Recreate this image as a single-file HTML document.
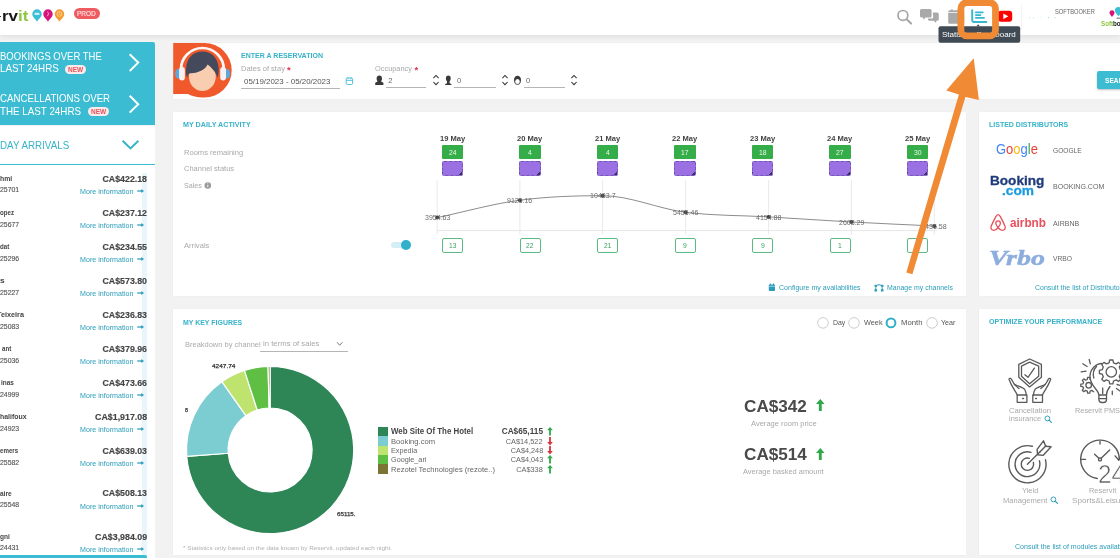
<!DOCTYPE html>
<html lang="en">
<head>
<meta charset="utf-8">
<title>Reservit Dashboard</title>
<style>
*{box-sizing:border-box;margin:0;padding:0}
html,body{width:1120px;height:558px;overflow:hidden}
body{background:#f2f2f2;font-family:"Liberation Sans",sans-serif;color:#555;position:relative}
.abs{position:absolute}
.t{position:absolute;white-space:nowrap;line-height:1;transform:scaleX(var(--s,1));transform-origin:0 0}
.card{position:absolute;background:#fff;box-shadow:0 0 1.500px rgba(0,0,0,.05)}
svg{position:absolute;overflow:visible}
</style>
</head>
<body>

<div class="abs" style="left:0;top:0;width:1120px;height:35px;background:#fff;box-shadow:0 2px 5px rgba(0,0,0,.075)"></div>
<div class="t" style="top:8px;font-size:15.20px;color:#161616;left:1.70px;font-weight:bold;--w:26.40px;--s:1.1167">rv<span style="color:#8cc63f">it</span></div>
<div class="abs" style="left:0;top:15.800px;width:.9px;height:1.600px;background:#333"></div>
<svg style="left:31px;top:9px" width="36" height="14" viewBox="0 0 36 14">
<path d="M6 .3a4.700 4.700 0 0 1 4.700 4.700c0 3.200-3.300 5-4.700 7.700C4.600 10 1.300 8.200 1.300 5A4.700 4.700 0 0 1 6 .3z" fill="#3bbfd6"/>
<path d="M17 .3a4.700 4.700 0 0 1 4.700 4.700c0 3.200-3.300 5-4.700 7.700-1.400-2.700-4.700-4.500-4.700-7.700A4.700 4.700 0 0 1 17 .3z" fill="#d6157a"/>
<path d="M28.500 .3a4.700 4.700 0 0 1 4.700 4.700c0 3.200-3.300 5-4.700 7.700-1.400-2.700-4.700-4.500-4.700-7.700A4.700 4.700 0 0 1 28.500 .3z" fill="#f39a2e"/>
<rect x="3.500" y="3.800" width="5" height="2.200" rx=".6" fill="#c9eef5"/>
<path d="M16.200 2.800l1.600 1.500-1.400 2.900" stroke="#f5b5d6" stroke-width=".9" fill="none"/>
<circle cx="28.500" cy="4.900" r="2.400" stroke="#fde2bf" stroke-width=".7" fill="none"/>
<path d="M28.500 3.400v1.700l1.100.8" stroke="#fde2bf" stroke-width=".6" fill="none"/>
</svg>
<div class="abs" style="left:73.500px;top:8px;width:26.500px;height:11px;background:#ee5b60;border-radius:6px"></div>
<div class="t" style="top:10px;font-size:7.30px;color:#fbdcdc;left:77.30px;-webkit-text-stroke-width:0.20px;--w:18.80px;--s:0.8913">PROD</div>
<svg style="left:890px;top:0" width="140" height="45" viewBox="890 0 140 45">
<circle cx="902.900" cy="15.400" r="4.900" stroke="#a6a6a6" stroke-width="1.700" fill="none"/>
<path d="M906.600 19.300l4.500 4.200" stroke="#a6a6a6" stroke-width="2" stroke-linecap="round"/>
<path d="M921.600 9h8.400a1.600 1.600 0 0 1 1.600 1.600v5.400a1.600 1.600 0 0 1-1.600 1.600h-4.200l-2.600 2.200v-2.200h-1.600a1.600 1.600 0 0 1-1.600-1.600v-5.400a1.600 1.600 0 0 1 1.600-1.600z" fill="#a9a9a9"/>
<path d="M932.800 12.600h4.400a1.600 1.600 0 0 1 1.600 1.600v5a1.600 1.600 0 0 1-1.600 1.600h-1v2.200l-2.600-2.200h-4a1.600 1.600 0 0 1-1.600-1.600v-.6h3.600a1.600 1.600 0 0 0 1.600-1.600z" fill="#a9a9a9"/>
<path d="M948.200 13h16v9.200a1.500 1.500 0 0 1-1.500 1.500h-13a1.500 1.500 0 0 1-1.500-1.500z" fill="#a9a9a9"/>
<path d="M948.200 12.200v-.4a1.500 1.500 0 0 1 1.500-1.500h13a1.500 1.500 0 0 1 1.500 1.500v.4z" fill="#a9a9a9"/>
<rect x="951" y="9.200" width="1.800" height="2.500" rx=".6" fill="#a9a9a9"/>
<rect x="998" y="10.800" width="14.200" height="11" rx="3" fill="#f00"/>
<path d="M1003.300 13.400l5 2.900-5 2.900z" fill="#fff"/>
<rect x="938.500" y="26.200" width="81.700" height="16.500" rx="2" fill="#3f4a54"/>
<path d="M976.500 26.200l1.700-2 1.700 2z" fill="#3f4a54"/>
<path d="M972.200 10.300v10a1.700 1.700 0 0 0 1.700 1.700h12.500" stroke="#35b8cf" stroke-width="1.900" fill="none" stroke-linecap="round"/>
<path d="M975.800 12.300h7M975.800 15.100h4.700M975.800 17.800h8.300" stroke="#35b8cf" stroke-width="1.700" fill="none" stroke-linecap="round"/>
</svg>
<div class="t" style="top:31px;font-size:8.00px;color:#fff;left:942.40px;--w:73.80px;--s:1.0058">Statistics Dashboard</div>
<div class="abs" style="left:1020.700px;top:4px;width:1px;height:26px;background:#f5f5f5"></div>
<div class="t" style="top:9px;font-size:6.50px;color:#666;left:1055.40px;--w:39.80px;--s:0.8814">SOFTBOOKER</div>
<svg style="left:1025px;top:15px" width="70" height="5" viewBox="0 0 70 5"><g fill="#9fdde8"><circle cx="4.500" cy="2.700" r=".5"/><circle cx="8.500" cy="2.700" r=".5"/><circle cx="16" cy="2.700" r=".4"/><circle cx="23.500" cy="2.700" r=".7"/><circle cx="30" cy="2.700" r=".6"/><circle cx="64.800" cy="2.700" r=".5"/></g></svg>
<svg style="left:1105px;top:6px" width="16" height="14" viewBox="0 0 16 14">
<path d="M7 4.200a2.500 2.500 0 0 1 2.500 2.500c0 1.700-1.700 2.700-2.500 4.300-.8-1.600-2.500-2.600-2.500-4.300A2.500 2.500 0 0 1 7 4.200z" fill="#d6157a"/>
<path d="M13.500 1a3.600 3.600 0 0 1 3.600 3.600c0 2.400-2.500 3.800-3.600 6-1.100-2.200-3.600-3.600-3.600-6A3.600 3.600 0 0 1 13.500 1z" fill="#3bbfd6"/>
<path d="M11.500 12.200h5" stroke="#444" stroke-width=".8"/>
</svg>
<div class="t" style="top:20px;font-size:8.00px;color:#222;left:1100.90px;font-weight:bold;--w:19.60px;--s:0.7734"><span style="color:#8cc63f">Soft</span>bo</div>
<div class="abs" style="left:0;top:42.300px;width:155px;height:83.200px;background:#3cbcd2;border-radius:0 2px 0 0"></div>
<div class="t" style="top:52px;font-size:10.20px;color:#fff;left:0.00px;--w:101.80px;--s:0.9333">BOOKINGS OVER THE</div>
<div class="t" style="top:64px;font-size:10.20px;color:#fff;left:0.00px;--w:58.80px;--s:0.9644">LAST 24HRS</div>
<div class="t" style="top:94px;font-size:10.20px;color:#fff;left:0.00px;--w:110.10px;--s:0.9502">CANCELLATIONS OVER</div>
<div class="t" style="top:107px;font-size:10.20px;color:#fff;left:0.00px;--w:81.00px;--s:0.9623">THE LAST 24HRS</div>
<div class="abs" style="left:64.5px;top:65.2px;width:21.200px;height:9px;background:#fdeaea;border-radius:4.500px"></div>
<div class="t" style="top:67px;font-size:6.90px;color:#e25560;left:67.70px;font-weight:bold;--w:15.20px;--s:0.9454">NEW</div>
<div class="abs" style="left:87.5px;top:107.2px;width:21.200px;height:9px;background:#fdeaea;border-radius:4.500px"></div>
<div class="t" style="top:109px;font-size:6.90px;color:#e25560;left:90.70px;font-weight:bold;--w:15.20px;--s:0.9454">NEW</div>
<svg style="left:126px;top:52px" width="16" height="22" viewBox="126 52 16 22"><path d="M129.700 54.200L138.200 62.600 129.700 71" stroke="#fff" stroke-width="2" fill="none"/></svg>
<svg style="left:126px;top:93px" width="16" height="22" viewBox="126 93 16 22"><path d="M129.700 95.800L138.200 104.200 129.700 112.600" stroke="#fff" stroke-width="2" fill="none"/></svg>
<div class="abs" style="left:0;top:125.500px;width:155px;height:433px;background:#fff"></div>
<div class="abs" style="left:0;top:164.200px;width:155px;height:1.200px;background:#3cbcd2"></div>
<div class="t" style="top:141px;font-size:10.20px;color:#37b3c9;left:0.00px;--w:69.20px;--s:0.9622">DAY ARRIVALS</div>
<svg style="left:120px;top:138px" width="22" height="14" viewBox="120 138 22 14"><path d="M122.600 140.800L130.500 148.400 138.400 140.800" stroke="#37b3c9" stroke-width="2" fill="none"/></svg>
<div class="abs" style="left:142px;top:173px;width:5px;height:383px;background:#e6f6fa"></div>
<div class="t" style="top:175px;font-size:7.60px;color:#444;left:0.00px;font-weight:bold;--w:12.20px;--s:0.9027">hmi</div>
<div class="t" style="top:186px;font-size:7.60px;color:#555;left:0.00px;-webkit-text-stroke-width:0.15px;--w:19.20px;--s:0.9089">25701</div>
<div class="t" style="top:175px;font-size:8.50px;color:#444;right:973.00px;transform-origin:100% 0;font-weight:bold;-webkit-text-stroke-width:0.15px;--w:44.50px;--s:1.0345">CA$422.18</div>
<div class="t" style="top:189px;font-size:7.10px;color:#2a9dba;left:79.60px;--w:53.40px;--s:1.0031">More information</div>
<svg style="left:137px;top:187.8px" width="8" height="6" viewBox="0 0 8 6"><path d="M.3 3h5" stroke="#2a9dba" stroke-width="1.300"/><path d="M4.300 1L7 3 4.300 5z" fill="#2a9dba"/></svg>
<div class="t" style="top:209px;font-size:7.60px;color:#444;left:0.00px;font-weight:bold;--w:14.00px;--s:0.8087">opez</div>
<div class="t" style="top:221px;font-size:7.60px;color:#555;left:0.00px;-webkit-text-stroke-width:0.15px;--w:19.20px;--s:0.9089">25677</div>
<div class="t" style="top:209px;font-size:8.50px;color:#444;right:973.00px;transform-origin:100% 0;font-weight:bold;-webkit-text-stroke-width:0.15px;--w:44.50px;--s:1.0345">CA$237.12</div>
<div class="t" style="top:223px;font-size:7.10px;color:#2a9dba;left:79.60px;--w:53.40px;--s:1.0031">More information</div>
<svg style="left:137px;top:221.9px" width="8" height="6" viewBox="0 0 8 6"><path d="M.3 3h5" stroke="#2a9dba" stroke-width="1.300"/><path d="M4.300 1L7 3 4.300 5z" fill="#2a9dba"/></svg>
<div class="t" style="top:243px;font-size:7.60px;color:#444;left:0.00px;font-weight:bold;--w:9.20px;--s:0.8077">dat</div>
<div class="t" style="top:255px;font-size:7.60px;color:#555;left:0.00px;-webkit-text-stroke-width:0.15px;--w:19.20px;--s:0.9089">25296</div>
<div class="t" style="top:243px;font-size:8.50px;color:#444;right:973.00px;transform-origin:100% 0;font-weight:bold;-webkit-text-stroke-width:0.15px;--w:44.50px;--s:1.0345">CA$234.55</div>
<div class="t" style="top:257px;font-size:7.10px;color:#2a9dba;left:79.60px;--w:53.40px;--s:1.0031">More information</div>
<svg style="left:137px;top:255.9px" width="8" height="6" viewBox="0 0 8 6"><path d="M.3 3h5" stroke="#2a9dba" stroke-width="1.300"/><path d="M4.300 1L7 3 4.300 5z" fill="#2a9dba"/></svg>
<div class="t" style="top:277px;font-size:7.60px;color:#444;left:0.00px;font-weight:bold;--w:4.70px;--s:1.1100">s</div>
<div class="t" style="top:289px;font-size:7.60px;color:#555;left:0.00px;-webkit-text-stroke-width:0.15px;--w:19.20px;--s:0.9089">25227</div>
<div class="t" style="top:277px;font-size:8.50px;color:#444;right:973.00px;transform-origin:100% 0;font-weight:bold;-webkit-text-stroke-width:0.15px;--w:44.50px;--s:1.0345">CA$573.80</div>
<div class="t" style="top:291px;font-size:7.10px;color:#2a9dba;left:79.60px;--w:53.40px;--s:1.0031">More information</div>
<svg style="left:137px;top:290.0px" width="8" height="6" viewBox="0 0 8 6"><path d="M.3 3h5" stroke="#2a9dba" stroke-width="1.300"/><path d="M4.300 1L7 3 4.300 5z" fill="#2a9dba"/></svg>
<div class="t" style="top:311px;font-size:7.60px;color:#444;left:-3.30px;font-weight:bold;--w:27.00px;--s:0.9589">Teixeira</div>
<div class="t" style="top:323px;font-size:7.60px;color:#555;left:0.00px;-webkit-text-stroke-width:0.15px;--w:19.20px;--s:0.9089">25083</div>
<div class="t" style="top:311px;font-size:8.50px;color:#444;right:973.00px;transform-origin:100% 0;font-weight:bold;-webkit-text-stroke-width:0.15px;--w:44.50px;--s:1.0345">CA$236.83</div>
<div class="t" style="top:325px;font-size:7.10px;color:#2a9dba;left:79.60px;--w:53.40px;--s:1.0031">More information</div>
<svg style="left:137px;top:324.0px" width="8" height="6" viewBox="0 0 8 6"><path d="M.3 3h5" stroke="#2a9dba" stroke-width="1.300"/><path d="M4.300 1L7 3 4.300 5z" fill="#2a9dba"/></svg>
<div class="t" style="top:345px;font-size:7.60px;color:#444;left:1.80px;font-weight:bold;--w:9.30px;--s:0.8165">ant</div>
<div class="t" style="top:357px;font-size:7.60px;color:#555;left:0.00px;-webkit-text-stroke-width:0.15px;--w:19.20px;--s:0.9089">25036</div>
<div class="t" style="top:345px;font-size:8.50px;color:#444;right:973.00px;transform-origin:100% 0;font-weight:bold;-webkit-text-stroke-width:0.15px;--w:44.50px;--s:1.0345">CA$379.96</div>
<div class="t" style="top:359px;font-size:7.10px;color:#2a9dba;left:79.60px;--w:53.40px;--s:1.0031">More information</div>
<svg style="left:137px;top:358.1px" width="8" height="6" viewBox="0 0 8 6"><path d="M.3 3h5" stroke="#2a9dba" stroke-width="1.300"/><path d="M4.300 1L7 3 4.300 5z" fill="#2a9dba"/></svg>
<div class="t" style="top:379px;font-size:7.60px;color:#444;left:1.40px;font-weight:bold;--w:12.90px;--s:0.8485">inas</div>
<div class="t" style="top:391px;font-size:7.60px;color:#555;left:0.00px;-webkit-text-stroke-width:0.15px;--w:19.20px;--s:0.9089">24999</div>
<div class="t" style="top:379px;font-size:8.50px;color:#444;right:973.00px;transform-origin:100% 0;font-weight:bold;-webkit-text-stroke-width:0.15px;--w:44.50px;--s:1.0345">CA$473.66</div>
<div class="t" style="top:393px;font-size:7.10px;color:#2a9dba;left:79.60px;--w:53.40px;--s:1.0031">More information</div>
<svg style="left:137px;top:392.2px" width="8" height="6" viewBox="0 0 8 6"><path d="M.3 3h5" stroke="#2a9dba" stroke-width="1.300"/><path d="M4.300 1L7 3 4.300 5z" fill="#2a9dba"/></svg>
<div class="t" style="top:413px;font-size:7.60px;color:#444;left:0.00px;font-weight:bold;--w:26.50px;--s:0.9099">halifoux</div>
<div class="t" style="top:425px;font-size:7.60px;color:#555;left:0.00px;-webkit-text-stroke-width:0.15px;--w:19.20px;--s:0.9089">24923</div>
<div class="t" style="top:413px;font-size:8.50px;color:#444;right:973.00px;transform-origin:100% 0;font-weight:bold;-webkit-text-stroke-width:0.15px;--w:52.00px;--s:1.0381">CA$1,917.08</div>
<div class="t" style="top:427px;font-size:7.10px;color:#2a9dba;left:79.60px;--w:53.40px;--s:1.0031">More information</div>
<svg style="left:137px;top:426.2px" width="8" height="6" viewBox="0 0 8 6"><path d="M.3 3h5" stroke="#2a9dba" stroke-width="1.300"/><path d="M4.300 1L7 3 4.300 5z" fill="#2a9dba"/></svg>
<div class="t" style="top:447px;font-size:7.60px;color:#444;left:0.00px;font-weight:bold;--w:18.20px;--s:0.8128">emers</div>
<div class="t" style="top:459px;font-size:7.60px;color:#555;left:0.00px;-webkit-text-stroke-width:0.15px;--w:19.20px;--s:0.9089">25582</div>
<div class="t" style="top:447px;font-size:8.50px;color:#444;right:973.00px;transform-origin:100% 0;font-weight:bold;-webkit-text-stroke-width:0.15px;--w:44.50px;--s:1.0345">CA$639.03</div>
<div class="t" style="top:461px;font-size:7.10px;color:#2a9dba;left:79.60px;--w:53.40px;--s:1.0031">More information</div>
<svg style="left:137px;top:460.3px" width="8" height="6" viewBox="0 0 8 6"><path d="M.3 3h5" stroke="#2a9dba" stroke-width="1.300"/><path d="M4.300 1L7 3 4.300 5z" fill="#2a9dba"/></svg>
<div class="t" style="top:490px;font-size:7.60px;color:#444;left:0.00px;font-weight:bold;--w:11.60px;--s:0.8583">aire</div>
<div class="t" style="top:501px;font-size:7.60px;color:#555;left:0.00px;-webkit-text-stroke-width:0.15px;--w:19.20px;--s:0.9089">25548</div>
<div class="t" style="top:489px;font-size:8.50px;color:#444;right:973.00px;transform-origin:100% 0;font-weight:bold;-webkit-text-stroke-width:0.15px;--w:44.50px;--s:1.0345">CA$508.13</div>
<div class="t" style="top:504px;font-size:7.10px;color:#2a9dba;left:79.60px;--w:53.40px;--s:1.0031">More information</div>
<svg style="left:137px;top:502.7px" width="8" height="6" viewBox="0 0 8 6"><path d="M.3 3h5" stroke="#2a9dba" stroke-width="1.300"/><path d="M4.300 1L7 3 4.300 5z" fill="#2a9dba"/></svg>
<div class="t" style="top:533px;font-size:7.60px;color:#444;left:0.00px;font-weight:bold;--w:9.80px;--s:0.8604">gni</div>
<div class="t" style="top:544px;font-size:7.60px;color:#555;left:0.00px;-webkit-text-stroke-width:0.15px;--w:19.20px;--s:0.9089">24431</div>
<div class="t" style="top:533px;font-size:8.50px;color:#444;right:973.00px;transform-origin:100% 0;font-weight:bold;-webkit-text-stroke-width:0.15px;--w:52.00px;--s:1.0381">CA$3,984.09</div>
<div class="t" style="top:547px;font-size:7.10px;color:#2a9dba;left:79.60px;--w:53.40px;--s:1.0031">More information</div>
<svg style="left:137px;top:545.7px" width="8" height="6" viewBox="0 0 8 6"><path d="M.3 3h5" stroke="#2a9dba" stroke-width="1.300"/><path d="M4.300 1L7 3 4.300 5z" fill="#2a9dba"/></svg>
<div class="abs" style="left:0;top:555.200px;width:147px;height:4px;background:#3cbcd2;border-radius:0 2px 0 0"></div>
<div class="card" style="left:173px;top:43px;width:947px;height:56.100px"></div>
<svg style="left:173px;top:42px" width="60" height="57" viewBox="173 42 60 57">
<path d="M173.200 42.900H204.400A27.300 27.300 0 0 1 204.400 97.500C197 97.500 192 96 188 93.900H173.200z" fill="#f0592b"/>
<path d="M181 69.400A21.400 21.400 0 0 1 223.800 69.400" stroke="#fbf7f6" stroke-width="2.700" fill="none"/>
<ellipse cx="178.600" cy="73.800" rx="3.600" ry="5" fill="#5ea5dc"/>
<ellipse cx="226.600" cy="73.800" rx="3.600" ry="5" fill="#5ea5dc"/>
<rect x="179.100" y="67.100" width="5.800" height="13.400" rx="2.900" fill="#f7f2f1"/>
<rect x="220.200" y="67.100" width="5.800" height="13.400" rx="2.900" fill="#f7f2f1"/>
<ellipse cx="202.400" cy="76.500" rx="13.400" ry="14.600" fill="#f9cdb0"/>
<path d="M187.200 77.500C184.500 72 185 51.400 202.400 51.400C219.800 51.400 220.300 72 217.500 77.500C216.500 74 214 69.500 207.600 64.500C206 69 198 73.500 190.500 73.200C188.500 73.200 187.800 75 187.200 77.500z" fill="#45495c"/>
</svg>
<div class="t" style="top:52px;font-size:7.30px;color:#37b3c9;left:241.10px;font-weight:bold;--w:82.00px;--s:0.9645">ENTER A RESERVATION</div>
<div class="t" style="top:65px;font-size:7.50px;color:#a9a9a9;left:241.10px;--w:43.90px;--s:1.0027">Dates of stay</div>
<div class="t" style="top:65px;font-size:9.50px;color:#e0324b;left:287.00px;font-weight:bold;">*</div>
<div class="t" style="top:78px;font-size:7.80px;color:#555;left:243.60px;--w:86.40px;--s:1.0167">05/19/2023 - 05/20/2023</div>
<div class="abs" style="left:241.100px;top:88.100px;width:99.200px;height:1px;background:#b5b5b5"></div>
<svg style="left:345px;top:76px" width="9" height="10" viewBox="345 76 9 10"><rect x="346.200" y="78" width="6.400" height="6.500" rx="1.300" stroke="#3cbcd2" stroke-width=".9" fill="none"/><path d="M346.200 80.300h6.400M347.800 77v1.500M351 77v1.500" stroke="#3cbcd2" stroke-width=".9"/></svg>
<div class="t" style="top:65px;font-size:7.50px;color:#a9a9a9;left:375.20px;--w:37.00px;--s:0.9858">Occupancy</div>
<div class="t" style="top:65px;font-size:9.50px;color:#e0324b;left:414.40px;font-weight:bold;">*</div>
<svg style="left:374px;top:74px" width="150" height="13" viewBox="374 74 150 13">
<path d="M379.300 75.600c1.700 0 2.700 1.200 2.700 2.800 0 1.300-.5 2.300-1.200 2.900l2.600 1.500v2.300h-8.200v-2.300l2.600-1.500c-.7-.6-1.200-1.600-1.200-2.900 0-1.600 1-2.800 2.700-2.800z" fill="#3a3a3a"/>
<path d="M448.300 75.600c1.500 0 2.400 1.100 2.400 2.700 0 1.500-.5 2.500-1.100 3.100v1.900l1.800.6v1.100h-6.200v-1.100l1.800-.6v-1.900c-.6-.6-1.100-1.600-1.100-3.100 0-1.600.9-2.700 2.400-2.700z" fill="#3a3a3a"/>
<path d="M517.500 75.800c2.100 0 3.500 1.700 3.500 4.200 0 2.700-1.400 4.800-3.500 4.800s-3.500-2.100-3.500-4.800c0-2.500 1.400-4.200 3.500-4.200z" fill="#3a3a3a"/>
<ellipse cx="517.500" cy="81.500" rx="2.300" ry="2.500" fill="#fff"/>
</svg>
<div class="t" style="top:77px;font-size:7.60px;color:#666;left:388.20px;">2</div>
<div class="abs" style="left:385.6px;top:86.600px;width:40.7px;height:1px;background:#b5b5b5"></div>
<svg style="left:431.5px;top:74px" width="8" height="12" viewBox="0 0 8 12"><path d="M1.400 4.200L4 1.500 6.600 4.200M1.400 8L4 10.700 6.600 8" stroke="#333" stroke-width="1.050" fill="none"/></svg>
<div class="t" style="top:77px;font-size:7.60px;color:#666;left:457.00px;">0</div>
<div class="abs" style="left:454.4px;top:86.600px;width:41.2px;height:1px;background:#b5b5b5"></div>
<svg style="left:500.5px;top:74px" width="8" height="12" viewBox="0 0 8 12"><path d="M1.400 4.200L4 1.500 6.600 4.200M1.400 8L4 10.700 6.600 8" stroke="#333" stroke-width="1.050" fill="none"/></svg>
<div class="t" style="top:77px;font-size:7.60px;color:#666;left:526.10px;">0</div>
<div class="abs" style="left:523.7px;top:86.600px;width:41.3px;height:1px;background:#b5b5b5"></div>
<svg style="left:569.6px;top:74px" width="8" height="12" viewBox="0 0 8 12"><path d="M1.400 4.200L4 1.500 6.600 4.200M1.400 8L4 10.700 6.600 8" stroke="#333" stroke-width="1.050" fill="none"/></svg>
<div class="abs" style="left:1097px;top:71px;width:30px;height:17.500px;background:#3cbcd2;border-radius:2px;box-shadow:0 1px 2px rgba(0,0,0,.25)"></div>
<div class="t" style="top:77px;font-size:7.20px;color:#fff;left:1105.00px;font-weight:bold;--w:28.00px;--s:0.9223">SEARCH</div>
<div class="card" style="left:173px;top:111.800px;width:793px;height:184px"></div>
<div class="t" style="top:121px;font-size:7.30px;color:#37b3c9;left:182.70px;font-weight:bold;--w:67.70px;--s:0.9820">MY DAILY ACTIVITY</div>
<div class="t" style="top:149px;font-size:7.30px;color:#a9a9a9;left:183.80px;--w:59.20px;--s:1.0352">Rooms remaining</div>
<div class="t" style="top:165px;font-size:7.30px;color:#a9a9a9;left:183.80px;--w:50.10px;--s:1.0290">Channel status</div>
<div class="t" style="top:182px;font-size:7.30px;color:#a9a9a9;left:183.80px;--w:17.90px;--s:0.9800">Sales</div>
<svg style="left:204px;top:182px" width="8" height="8" viewBox="204 182 8 8"><circle cx="207.800" cy="185.500" r="3.300" fill="#9a9a9a"/><path d="M207.800 185v2.200" stroke="#fff" stroke-width=".9"/><circle cx="207.800" cy="183.800" r=".55" fill="#fff"/></svg>
<div class="t" style="top:242px;font-size:7.30px;color:#a9a9a9;left:183.80px;--w:25.40px;--s:1.0441">Arrivals</div>
<div class="abs" style="left:390.500px;top:242px;width:18px;height:6.400px;border-radius:3.200px;background:#d3eff5"></div>
<div class="abs" style="left:401.400px;top:240.300px;width:9.800px;height:9.800px;border-radius:50%;background:#32b0cb"></div>
<svg style="left:0;top:0" width="1120" height="300" viewBox="0 0 1120 300"><path d="M437.2 180V234.500" stroke="#e9e9e9" stroke-width="1"/><path d="M519.9 180V234.500" stroke="#e9e9e9" stroke-width="1"/><path d="M602.6 180V234.500" stroke="#e9e9e9" stroke-width="1"/><path d="M685.6 180V234.500" stroke="#e9e9e9" stroke-width="1"/><path d="M768.6 180V234.500" stroke="#e9e9e9" stroke-width="1"/><path d="M851.4 180V234.500" stroke="#e9e9e9" stroke-width="1"/><path d="M934.3 180V234.500" stroke="#e9e9e9" stroke-width="1"/><path d="M437.200 230.600H937" stroke="#e6e6e6" stroke-width="1"/><path d="M437.2 217.6 C464.8 211.80 492.3 203.85 519.9 200.2 C547.5 196.55 575.0 195.70 602.6 195.7 C630.3 195.70 657.9 208.77 685.6 212.3 C713.3 215.83 740.9 215.28 768.6 216.9 C796.2 218.51 823.8 220.48 851.4 222.0 C879.0 223.52 906.7 224.67 934.3 226.0" stroke="#6e6e6e" stroke-width=".8" fill="none"/><circle cx="437.2" cy="217.6" r="2" fill="#3c3c3c"/><circle cx="519.9" cy="200.2" r="2" fill="#3c3c3c"/><circle cx="602.6" cy="195.7" r="2" fill="#3c3c3c"/><circle cx="685.6" cy="212.3" r="2" fill="#3c3c3c"/><circle cx="768.6" cy="216.9" r="2" fill="#3c3c3c"/><circle cx="851.4" cy="222.0" r="2" fill="#3c3c3c"/><circle cx="934.3" cy="226.0" r="2" fill="#3c3c3c"/></svg>
<div class="t" style="top:214px;font-size:7.40px;color:#6a6a6a;left:424.50px;--w:25.40px;--s:0.9506">3954.63</div>
<div class="t" style="top:197px;font-size:7.40px;color:#6a6a6a;left:507.30px;--w:25.20px;--s:0.9432">9126.16</div>
<div class="t" style="top:192px;font-size:7.40px;color:#6a6a6a;left:589.75px;--w:25.70px;--s:0.9619">10483.7</div>
<div class="t" style="top:209px;font-size:7.40px;color:#6a6a6a;left:672.90px;--w:25.40px;--s:0.9506">5456.46</div>
<div class="t" style="top:214px;font-size:7.40px;color:#6a6a6a;left:755.90px;--w:25.40px;--s:0.9506">4154.88</div>
<div class="t" style="top:219px;font-size:7.40px;color:#6a6a6a;left:838.70px;--w:25.40px;--s:0.9506">2608.29</div>
<div class="t" style="top:223px;font-size:7.40px;color:#6a6a6a;left:925.20px;--w:21.80px;--s:0.9642">436.58</div>
<div class="t" style="top:135px;font-size:7.30px;color:#444;left:439.90px;font-weight:bold;--w:25.20px;--s:1.0352">19 May</div>
<div class="abs" style="left:441.9px;top:145.400px;width:21.200px;height:13.700px;background:#35ad49;border-radius:1px"></div>
<div class="t" style="top:149px;font-size:7.00px;color:#e9f7ea;left:448.70px;--w:7.60px;--s:0.9747">24</div>
<div class="abs" style="left:441.9px;top:161.300px;width:21.200px;height:14.800px;background:linear-gradient(135deg,#9b70e2 0,#9b70e2 90%,#3d3358 90%);border:.6px dashed #7258b8;border-radius:2px"></div>
<div class="abs" style="left:442.0px;top:238.300px;width:21px;height:15.200px;background:#fff;border:1px solid #5cba84;border-radius:2px"></div>
<div class="t" style="top:242px;font-size:7.00px;color:#3aa163;left:448.80px;--w:7.40px;--s:0.9491">13</div>
<div class="t" style="top:135px;font-size:7.30px;color:#444;left:517.40px;font-weight:bold;--w:25.20px;--s:1.0352">20 May</div>
<div class="abs" style="left:519.4px;top:145.400px;width:21.200px;height:13.700px;background:#35ad49;border-radius:1px"></div>
<div class="t" style="top:149px;font-size:7.00px;color:#e9f7ea;left:528.10px;--w:3.80px;--s:0.9728">4</div>
<div class="abs" style="left:519.4px;top:161.300px;width:21.200px;height:14.800px;background:linear-gradient(135deg,#9b70e2 0,#9b70e2 90%,#3d3358 90%);border:.6px dashed #7258b8;border-radius:2px"></div>
<div class="abs" style="left:519.5px;top:238.300px;width:21px;height:15.200px;background:#fff;border:1px solid #5cba84;border-radius:2px"></div>
<div class="t" style="top:242px;font-size:7.00px;color:#3aa163;left:526.30px;--w:7.40px;--s:0.9491">22</div>
<div class="t" style="top:135px;font-size:7.30px;color:#444;left:594.90px;font-weight:bold;--w:25.20px;--s:1.0352">21 May</div>
<div class="abs" style="left:596.9px;top:145.400px;width:21.200px;height:13.700px;background:#35ad49;border-radius:1px"></div>
<div class="t" style="top:149px;font-size:7.00px;color:#e9f7ea;left:605.60px;--w:3.80px;--s:0.9728">4</div>
<div class="abs" style="left:596.9px;top:161.300px;width:21.200px;height:14.800px;background:linear-gradient(135deg,#9b70e2 0,#9b70e2 90%,#3d3358 90%);border:.6px dashed #7258b8;border-radius:2px"></div>
<div class="abs" style="left:597.0px;top:238.300px;width:21px;height:15.200px;background:#fff;border:1px solid #5cba84;border-radius:2px"></div>
<div class="t" style="top:242px;font-size:7.00px;color:#3aa163;left:603.80px;--w:7.40px;--s:0.9491">21</div>
<div class="t" style="top:135px;font-size:7.30px;color:#444;left:672.40px;font-weight:bold;--w:25.20px;--s:1.0352">22 May</div>
<div class="abs" style="left:674.4px;top:145.400px;width:21.200px;height:13.700px;background:#35ad49;border-radius:1px"></div>
<div class="t" style="top:149px;font-size:7.00px;color:#e9f7ea;left:681.20px;--w:7.60px;--s:0.9747">17</div>
<div class="abs" style="left:674.4px;top:161.300px;width:21.200px;height:14.800px;background:linear-gradient(135deg,#9b70e2 0,#9b70e2 90%,#3d3358 90%);border:.6px dashed #7258b8;border-radius:2px"></div>
<div class="abs" style="left:674.5px;top:238.300px;width:21px;height:15.200px;background:#fff;border:1px solid #5cba84;border-radius:2px"></div>
<div class="t" style="top:242px;font-size:7.00px;color:#3aa163;left:683.10px;--w:3.80px;--s:0.9728">9</div>
<div class="t" style="top:135px;font-size:7.30px;color:#444;left:749.90px;font-weight:bold;--w:25.20px;--s:1.0352">23 May</div>
<div class="abs" style="left:751.9px;top:145.400px;width:21.200px;height:13.700px;background:#35ad49;border-radius:1px"></div>
<div class="t" style="top:149px;font-size:7.00px;color:#e9f7ea;left:758.70px;--w:7.60px;--s:0.9747">18</div>
<div class="abs" style="left:751.9px;top:161.300px;width:21.200px;height:14.800px;background:linear-gradient(135deg,#9b70e2 0,#9b70e2 90%,#3d3358 90%);border:.6px dashed #7258b8;border-radius:2px"></div>
<div class="abs" style="left:752.0px;top:238.300px;width:21px;height:15.200px;background:#fff;border:1px solid #5cba84;border-radius:2px"></div>
<div class="t" style="top:242px;font-size:7.00px;color:#3aa163;left:760.60px;--w:3.80px;--s:0.9728">9</div>
<div class="t" style="top:135px;font-size:7.30px;color:#444;left:827.40px;font-weight:bold;--w:25.20px;--s:1.0352">24 May</div>
<div class="abs" style="left:829.4px;top:145.400px;width:21.200px;height:13.700px;background:#35ad49;border-radius:1px"></div>
<div class="t" style="top:149px;font-size:7.00px;color:#e9f7ea;left:836.20px;--w:7.60px;--s:0.9747">27</div>
<div class="abs" style="left:829.4px;top:161.300px;width:21.200px;height:14.800px;background:linear-gradient(135deg,#9b70e2 0,#9b70e2 90%,#3d3358 90%);border:.6px dashed #7258b8;border-radius:2px"></div>
<div class="abs" style="left:829.5px;top:238.300px;width:21px;height:15.200px;background:#fff;border:1px solid #5cba84;border-radius:2px"></div>
<div class="t" style="top:242px;font-size:7.00px;color:#3aa163;left:838.10px;--w:3.80px;--s:0.9728">1</div>
<div class="t" style="top:135px;font-size:7.30px;color:#444;left:904.90px;font-weight:bold;--w:25.20px;--s:1.0352">25 May</div>
<div class="abs" style="left:906.9px;top:145.400px;width:21.200px;height:13.700px;background:#35ad49;border-radius:1px"></div>
<div class="t" style="top:149px;font-size:7.00px;color:#e9f7ea;left:913.70px;--w:7.60px;--s:0.9747">30</div>
<div class="abs" style="left:906.9px;top:161.300px;width:21.200px;height:14.800px;background:linear-gradient(135deg,#9b70e2 0,#9b70e2 90%,#3d3358 90%);border:.6px dashed #7258b8;border-radius:2px"></div>
<div class="abs" style="left:907.0px;top:238.300px;width:21px;height:15.200px;background:#fff;border:1px solid #5cba84;border-radius:2px"></div>
<svg style="left:768px;top:283px" width="8" height="9" viewBox="0 0 8 9"><rect x=".8" y="1.400" width="6.200" height="6.600" rx=".8" fill="#2a9dba"/><path d="M2.300 .4v2M5.500 .4v2" stroke="#2a9dba" stroke-width="1"/><path d="M.8 3.300h6.200" stroke="#fff" stroke-width=".5"/></svg>
<div class="t" style="top:284px;font-size:7.20px;color:#2a9dba;left:778.80px;--w:81.60px;--s:0.9772">Configure my availabilities</div>
<svg style="left:874px;top:283.500px" width="10" height="8" viewBox="0 0 10 8"><path d="M1.800 6.500V3.500a3.200 2.800 0 0 1 6.400 0v3" stroke="#2a9dba" stroke-width="1" fill="none"/><rect x=".5" y="5.200" width="2.600" height="2.300" fill="#2a9dba"/><rect x="6.900" y="5.200" width="2.600" height="2.300" fill="#2a9dba"/><rect x=".5" y=".8" width="2.400" height="2" fill="#2a9dba"/><rect x="7.100" y=".8" width="2.400" height="2" fill="#2a9dba"/></svg>
<div class="t" style="top:284px;font-size:7.20px;color:#2a9dba;left:887.30px;--w:66.00px;--s:0.9659">Manage my channels</div>
<div class="card" style="left:979px;top:111.800px;width:141px;height:184px"></div>
<div class="t" style="top:121px;font-size:7.30px;color:#37b3c9;left:988.70px;font-weight:bold;--w:79.30px;--s:0.9603">LISTED DISTRIBUTORS</div>
<div class="t" style="top:142px;font-size:14.00px;color:#4285f4;left:996.30px;--w:42.00px;--s:0.9291"><span style="color:#4285f4">G</span><span style="color:#ea4335">o</span><span style="color:#fbbc05">o</span><span style="color:#4285f4">g</span><span style="color:#34a853">l</span><span style="color:#ea4335">e</span></div>
<div class="t" style="top:147px;font-size:7.40px;color:#666;left:1053.10px;--w:28.60px;--s:0.8924">GOOGLE</div>
<div class="t" style="top:174px;font-size:13.60px;color:#1f3b7c;left:990.30px;font-weight:bold;-webkit-text-stroke-width:0.30px;--w:54.30px;--s:0.9986">Booking</div>
<div class="t" style="top:184px;font-size:13.60px;color:#1a9be0;left:1001.60px;font-weight:bold;-webkit-text-stroke-width:0.30px;--w:32.00px;--s:1.0084">.com</div>
<div class="t" style="top:183px;font-size:7.40px;color:#666;left:1053.10px;--w:51.30px;--s:0.9536">BOOKING.COM</div>
<svg style="left:989px;top:213px" width="19" height="19" viewBox="0 0 19 19">
<path d="M9.100 1.600c1.100 0 1.700.9 2.400 2.300 1.700 3.300 3.600 7 4.500 9.300.9 2.300-.6 4.100-2.600 4.100-1.700 0-3-1.100-4.300-2.600-1.300 1.500-2.600 2.600-4.300 2.600-2 0-3.500-1.800-2.600-4.100.9-2.300 2.800-6 4.500-9.300.7-1.400 1.300-2.300 2.400-2.300z" stroke="#e8505b" stroke-width="1.300" fill="none"/>
<path d="M9.100 14.700c-1.500-1.900-2.300-3.300-2.300-4.500 0-1.400 1-2.300 2.300-2.300s2.300.9 2.300 2.300c0 1.200-.8 2.600-2.300 4.500z" stroke="#e8505b" stroke-width="1.300" fill="none"/>
</svg>
<div class="t" style="top:217px;font-size:12.20px;color:#e8505b;left:1009.50px;font-weight:bold;--w:36.00px;--s:0.9664">airbnb</div>
<div class="t" style="top:220px;font-size:7.40px;color:#666;left:1053.10px;--w:26.30px;--s:0.9553">AIRBNB</div>
<div class="t" style="top:247px;font-size:22.00px;color:#8dadde;left:989.00px;font-weight:bold;font-family:'Liberation Serif',serif;-webkit-text-stroke-width:0.50px;font-style:italic;--w:56.00px;--s:1.2718">Vrbo</div>
<div class="t" style="top:255px;font-size:7.40px;color:#666;left:1053.10px;--w:19.00px;--s:0.9068">VRBO</div>
<div class="t" style="top:284px;font-size:7.20px;color:#2a9dba;left:1035.00px;--w:90.50px;--s:0.9681">Consult the list of Distributors</div>
<div class="card" style="left:173px;top:309.200px;width:793px;height:245.700px"></div>
<div class="t" style="top:319px;font-size:7.30px;color:#37b3c9;left:182.60px;font-weight:bold;--w:59.20px;--s:0.9520">MY KEY FIGURES</div>
<div class="t" style="top:341px;font-size:7.40px;color:#a9a9a9;left:184.60px;--w:75.70px;--s:1.0123">Breakdown by channel</div>
<div class="t" style="top:340px;font-size:7.40px;color:#a9a9a9;left:262.60px;--w:56.40px;--s:1.0481">in terms of sales</div>
<svg style="left:336px;top:341px" width="8" height="6" viewBox="336 341 8 6"><path d="M337 342.300l2.700 2.900 2.700-2.900" stroke="#666" stroke-width=".9" fill="none"/></svg>
<div class="abs" style="left:260.300px;top:350.700px;width:88px;height:1px;background:#b5b5b5"></div>
<svg style="left:180px;top:360px" width="180" height="180" viewBox="180 360 180 180"><path d="M270.10 366.40A83.6 83.6 0 1 1 186.75 456.45L228.23 453.24A42.0 42.0 0 1 0 270.10 408.00z" fill="#2e8657" stroke="#fff" stroke-width="1.200"/><path d="M186.75 456.45A83.6 83.6 0 0 1 221.92 381.68L245.89 415.68A42.0 42.0 0 0 0 228.23 453.24z" fill="#7bcdd2" stroke="#fff" stroke-width="1.200"/><path d="M221.92 381.68A83.6 83.6 0 0 1 244.45 370.43L257.21 410.03A42.0 42.0 0 0 0 245.89 415.68z" fill="#bfe36f" stroke="#fff" stroke-width="1.200"/><path d="M244.45 370.43A83.6 83.6 0 0 1 268.09 366.42L269.09 408.01A42.0 42.0 0 0 0 257.21 410.03z" fill="#5fbf45" stroke="#fff" stroke-width="1.200"/><path d="M268.09 366.42A83.6 83.6 0 0 1 270.10 366.40L270.10 408.00A42.0 42.0 0 0 0 269.09 408.01z" fill="#7b7434" stroke="#fff" stroke-width="1.200"/></svg>
<div class="t" style="top:363px;font-size:6.00px;color:#333;left:212.00px;-webkit-text-stroke-width:0.25px;--w:23.40px;--s:1.0782">4247.74</div>
<div class="t" style="top:407px;font-size:6.00px;color:#333;left:184.60px;-webkit-text-stroke-width:0.25px;--w:3.00px;--s:0.8972">8</div>
<div class="t" style="top:511px;font-size:6.00px;color:#333;left:337.00px;-webkit-text-stroke-width:0.25px;--w:18.50px;--s:1.0332">65115.</div>
<div class="abs" style="left:378.400px;top:427.10px;width:9.500px;height:9.400px;background:#2e8657"></div>
<div class="t" style="top:428px;font-size:8.20px;color:#444;left:390.50px;font-weight:bold;--w:82.20px;--s:0.9628">Web Site Of The Hotel</div>
<div class="t" style="top:428px;font-size:8.20px;color:#444;right:577.10px;transform-origin:100% 0;font-weight:bold;--w:41.30px;--s:1.0077">CA$65,115</div>
<svg style="left:547px;top:427.4px" width="6" height="9" viewBox="0 0 6 9"><path d="M3 0L5.800 3.300H3.900V8.400H2.100V3.300H.2z" fill="#2fa84a"/></svg>
<div class="abs" style="left:378.400px;top:436.40px;width:9.500px;height:9.400px;background:#7bcdd2"></div>
<div class="t" style="top:438px;font-size:7.70px;color:#666;left:390.50px;--w:44.10px;--s:0.9921">Booking.com</div>
<div class="t" style="top:438px;font-size:7.70px;color:#666;right:577.10px;transform-origin:100% 0;--w:36.80px;--s:0.9566">CA$14,522</div>
<svg style="left:547px;top:437.2px" width="6" height="9" viewBox="0 0 6 9"><path d="M3 8.400L5.800 5.100H3.900V0H2.100V5.100H.2z" fill="#d9363c"/></svg>
<div class="abs" style="left:378.400px;top:445.70px;width:9.500px;height:9.400px;background:#bfe36f"></div>
<div class="t" style="top:447px;font-size:7.70px;color:#666;left:390.50px;--w:26.30px;--s:0.9467">Expedia</div>
<div class="t" style="top:447px;font-size:7.70px;color:#666;right:577.10px;transform-origin:100% 0;--w:32.40px;--s:0.9473">CA$4,248</div>
<svg style="left:547px;top:446.4px" width="6" height="9" viewBox="0 0 6 9"><path d="M3 8.400L5.800 5.100H3.900V0H2.100V5.100H.2z" fill="#d9363c"/></svg>
<div class="abs" style="left:378.400px;top:455.00px;width:9.500px;height:9.400px;background:#5fbf45"></div>
<div class="t" style="top:456px;font-size:7.70px;color:#666;left:390.50px;--w:35.40px;--s:0.9413">Google_ari</div>
<div class="t" style="top:456px;font-size:7.70px;color:#666;right:577.10px;transform-origin:100% 0;--w:32.40px;--s:0.9473">CA$4,043</div>
<svg style="left:547px;top:455.4px" width="6" height="9" viewBox="0 0 6 9"><path d="M3 0L5.800 3.300H3.900V8.400H2.100V3.300H.2z" fill="#2fa84a"/></svg>
<div class="abs" style="left:378.400px;top:464.30px;width:9.500px;height:9.400px;background:#7b7434"></div>
<div class="t" style="top:466px;font-size:7.70px;color:#666;left:390.50px;--w:104.00px;--s:0.9826">Rezotel Technologies (rezote..)</div>
<div class="t" style="top:466px;font-size:7.70px;color:#666;right:577.10px;transform-origin:100% 0;--w:26.50px;--s:0.9539">CA$338</div>
<svg style="left:547px;top:464.9px" width="6" height="9" viewBox="0 0 6 9"><path d="M3 0L5.800 3.300H3.900V8.400H2.100V3.300H.2z" fill="#2fa84a"/></svg>
<div class="t" style="top:545px;font-size:6.20px;color:#b0b0b0;left:182.50px;--w:209.00px;--s:1.0281">* Statistics only based on the data known by Reservit, updated each night.</div>
<svg style="left:816.0px;top:316px" width="14" height="14" viewBox="0 0 14 14"><circle cx="7" cy="6.900" r="5.300" stroke="#c6c6c6" stroke-width=".9" fill="#fff"/></svg>
<div class="t" style="top:319px;font-size:7.40px;color:#555;left:832.80px;--w:12.30px;--s:0.9349">Day</div>
<svg style="left:847.0px;top:316px" width="14" height="14" viewBox="0 0 14 14"><circle cx="7" cy="6.900" r="5.300" stroke="#c6c6c6" stroke-width=".9" fill="#fff"/></svg>
<div class="t" style="top:319px;font-size:7.40px;color:#555;left:863.80px;--w:18.60px;--s:0.9912">Week</div>
<svg style="left:884.3px;top:316px" width="14" height="14" viewBox="0 0 14 14"><circle cx="7" cy="6.900" r="4.400" stroke="#2fb0c9" stroke-width="2" fill="#fff"/></svg>
<div class="t" style="top:319px;font-size:7.40px;color:#555;left:901.00px;--w:21.50px;--s:1.0464">Month</div>
<svg style="left:925.0px;top:316px" width="14" height="14" viewBox="0 0 14 14"><circle cx="7" cy="6.900" r="5.300" stroke="#c6c6c6" stroke-width=".9" fill="#fff"/></svg>
<div class="t" style="top:319px;font-size:7.40px;color:#555;left:941.40px;--w:14.40px;--s:0.9640">Year</div>
<div class="t" style="top:398px;font-size:16.20px;color:#4a4a4a;left:743.90px;font-weight:bold;--w:62.90px;--s:1.0588">CA$342</div>
<svg style="left:815.600px;top:399.4px" width="9" height="12" viewBox="0 0 9 12"><path d="M4.300 0L8.600 4.900H5.750V12H2.850V4.900H0z" fill="#2fa84a"/></svg>
<div class="t" style="top:420px;font-size:7.30px;color:#a9a9a9;left:751.10px;--w:65.70px;--s:1.0339">Average room price</div>
<div class="t" style="top:446px;font-size:16.20px;color:#4a4a4a;left:743.90px;font-weight:bold;--w:62.90px;--s:1.0588">CA$514</div>
<svg style="left:815.600px;top:447.7px" width="9" height="12" viewBox="0 0 9 12"><path d="M4.300 0L8.600 4.900H5.750V12H2.850V4.900H0z" fill="#2fa84a"/></svg>
<div class="t" style="top:468px;font-size:7.30px;color:#a9a9a9;left:743.40px;--w:80.60px;--s:1.0205">Average basked amount</div>
<div class="card" style="left:979px;top:309.200px;width:141px;height:245.700px"></div>
<div class="t" style="top:318px;font-size:7.30px;color:#37b3c9;left:988.50px;font-weight:bold;--w:113.10px;--s:0.9698">OPTIMIZE YOUR PERFORMANCE</div>
<div class="t" style="top:407px;font-size:7.40px;color:#a9a9a9;left:1008.80px;--w:42.00px;--s:1.0323">Cancellation</div>
<div class="t" style="top:415px;font-size:7.40px;color:#a9a9a9;left:1008.80px;--w:32.20px;--s:1.0048">insurance</div>
<div class="t" style="top:407px;font-size:7.40px;color:#a9a9a9;left:1075.20px;--w:45.00px;--s:0.9959">Reservit PMS</div>
<div class="t" style="top:487px;font-size:7.40px;color:#a9a9a9;left:1021.60px;--w:16.30px;--s:1.0079">Yield</div>
<div class="t" style="top:497px;font-size:7.40px;color:#a9a9a9;left:1003.00px;--w:44.30px;--s:1.0269">Management</div>
<div class="t" style="top:487px;font-size:7.40px;color:#a9a9a9;left:1088.80px;--w:27.20px;--s:1.0033">Reservit</div>
<div class="t" style="top:497px;font-size:7.40px;color:#a9a9a9;left:1071.70px;--w:55.50px;--s:1.0983">Sports&amp;Leisure</div>
<div class="t" style="top:543px;font-size:7.20px;color:#2a9dba;left:1015.10px;--w:112.00px;--s:0.9767">Consult the list of modules available</div>
<svg style="left:1043.8px;top:415.2px" width="9" height="9" viewBox="0 0 9 9"><circle cx="3.400" cy="3.400" r="2.400" stroke="#2a9dba" stroke-width=".95" fill="none"/><path d="M5.200 5.200L7.400 7.400" stroke="#2a9dba" stroke-width="1.150" stroke-linecap="round"/></svg>
<svg style="left:1049.8px;top:496.2px" width="9" height="9" viewBox="0 0 9 9"><circle cx="3.400" cy="3.400" r="2.400" stroke="#2a9dba" stroke-width=".95" fill="none"/><path d="M5.200 5.200L7.400 7.400" stroke="#2a9dba" stroke-width="1.150" stroke-linecap="round"/></svg>
<svg style="left:1000px;top:352px" width="120" height="140" viewBox="1000 352 120 140" fill="none" stroke="#5a5a5a" stroke-width="1.300" stroke-linecap="round" stroke-linejoin="round">
<!-- shield + hands -->
<path d="M1029.600 359L1041.400 364.400V377.300L1029.600 386.900 1018.800 377.300V364.400z"/>
<path d="M1029.600 362.200L1038.700 366.200V376.200L1029.600 383.700 1021.500 376.200V366.200z"/>
<path d="M1024.900 374.800L1028 377.300 1034.400 368.100"/>
<path d="M1017.200 395C1016.500 392 1012 388 1009.100 379.500 1008.800 378.300 1010.600 377.800 1011.300 379 1013 383 1016 386.500 1019 388.500"/>
<path d="M1014.500 384.500C1019 386.500 1023.500 387.500 1024.700 389.500 1025.800 391.500 1026.300 393 1026.300 395"/>
<rect x="1017.200" y="395" width="9.700" height="7.300"/>
<path d="M1022.600 398.500h.9"/>
<path d="M1042.500 395C1043.200 392 1047.700 388 1050.600 379.500 1050.900 378.300 1049.100 377.800 1048.400 379 1046.700 383 1043.700 386.500 1040.700 388.500"/>
<path d="M1045.200 384.500C1040.700 386.500 1036.200 387.500 1035 389.500 1033.900 391.500 1033.400 393 1033.400 395"/>
<rect x="1032.800" y="395" width="9.700" height="7.300"/>
<path d="M1035.600 398.500h.9"/>
<!-- bulb + gears -->
<path d="M1098.900 395C1098.900 390 1090 386 1090 376.500 1090 369 1096 363.500 1102 363.500"/>
<path d="M1106.500 395C1106.500 391.500 1108 389 1110 386.500"/>
<path d="M1098.900 395h7.600v4.500a3 3 0 0 1-3 3h-1.600a3 3 0 0 1-3-3z"/>
<path d="M1098.900 398.600h7.600"/>
<path d="M1096.500 366.500C1093.500 369.500 1092.800 374 1093.800 378"/>
<path d="M1102.700 393.500V388"/>
<circle cx="1111.300" cy="371.900" r="5.200"/>
<path d="M1109.1 362.8L1109.7 360.0L1112.9 360.0L1113.5 362.8L1116.2 363.9L1118.6 362.4L1120.8 364.6L1119.3 367.0L1120.4 369.7L1123.2 370.3L1123.2 373.5L1120.4 374.1L1119.3 376.8L1120.8 379.2L1118.6 381.4L1116.2 379.9L1113.5 381.0L1112.9 383.8L1109.7 383.8L1109.1 381.0L1106.4 379.9L1104.0 381.4L1101.8 379.2L1103.3 376.8L1102.2 374.1L1099.4 373.5L1099.4 370.3L1102.2 369.7L1103.3 367.0L1101.8 364.6L1104.0 362.4L1106.4 363.9z"/>
<circle cx="1088.700" cy="385.300" r="2.800"/>
<path d="M1093.6 391.7L1091.8 390.4L1090.1 391.1L1089.8 393.2L1087.6 393.2L1087.3 391.1L1085.6 390.4L1083.8 391.7L1082.3 390.2L1083.6 388.4L1082.9 386.7L1080.8 386.4L1080.8 384.2L1082.9 383.9L1083.6 382.2L1082.3 380.4L1083.8 378.9L1085.6 380.2L1087.3 379.5L1087.6 377.4L1089.8 377.4L1090.1 379.5"/>
<path d="M1089.200 359.500l1.100 4.300M1082.800 363.800l4.300 2.700M1081.200 371.900l4.800-.8M1112.300 391.200v3.300M1116.500 388.500l3.500 2.500M1117 384.500l3 .8"/>
</svg>
<svg style="left:1000px;top:436px" width="120" height="60" viewBox="1000 436 120 60" fill="none" stroke="#5a5a5a" stroke-width="1.400" stroke-linecap="round" stroke-linejoin="round">
<!-- target -->
<path d="M1032.300 446.300A18.600 18.600 0 1 0 1045.500 459.800"/>
<path d="M1031 452.300A12.400 12.400 0 1 0 1039.400 460.800"/>
<path d="M1029.300 458.300A6.200 6.200 0 1 0 1033.400 462.500"/>
<path d="M1027.400 464.200L1039.800 452.100"/>
<path d="M1037.100 449.400L1043.500 440.800 1045.700 446.200 1051.100 446.800 1043 455.400 1037.600 454.800z"/>
<path d="M1039.800 452.100L1046 445.800"/>
<!-- clock 24 -->
<path d="M1097.300 478.500A19.300 19.300 0 1 1 1119.300 459.400"/>
<path d="M1115.100 455.900L1118.800 460.200 1120.400 455.900"/>
<path d="M1100 441.400v2.700M1081.200 459.400h4.300"/>
<circle cx="1100" cy="459.400" r="1.500"/>
<path d="M1098.900 458.300L1094.600 454.300M1101.100 458.300L1109.700 450"/>
</svg>
<svg style="left:1096px;top:460px" width="30" height="28" viewBox="1096 460 30 28"><text x="1098" y="483.300" font-family="Liberation Sans, sans-serif" font-size="25" fill="#5a5a5a" stroke="#fff" stroke-width=".55" textLength="27" lengthAdjust="spacingAndGlyphs">24</text></svg>
<svg style="left:950px;top:0" width="60" height="45" viewBox="950 0 60 45"><rect x="960.900" y="2.700" width="34.600" height="33.200" rx="6" stroke="#f08a35" stroke-width="6.800" fill="none"/></svg>
<svg style="left:0;top:0" width="1120" height="558" viewBox="0 0 1120 558"><path d="M973.700 58.300L978.900 100 965.400 97 912.400 274.200 906.300 272.400 958.900 94.600 946.300 90.600z" fill="#f08a35"/></svg>
</body>
</html>
